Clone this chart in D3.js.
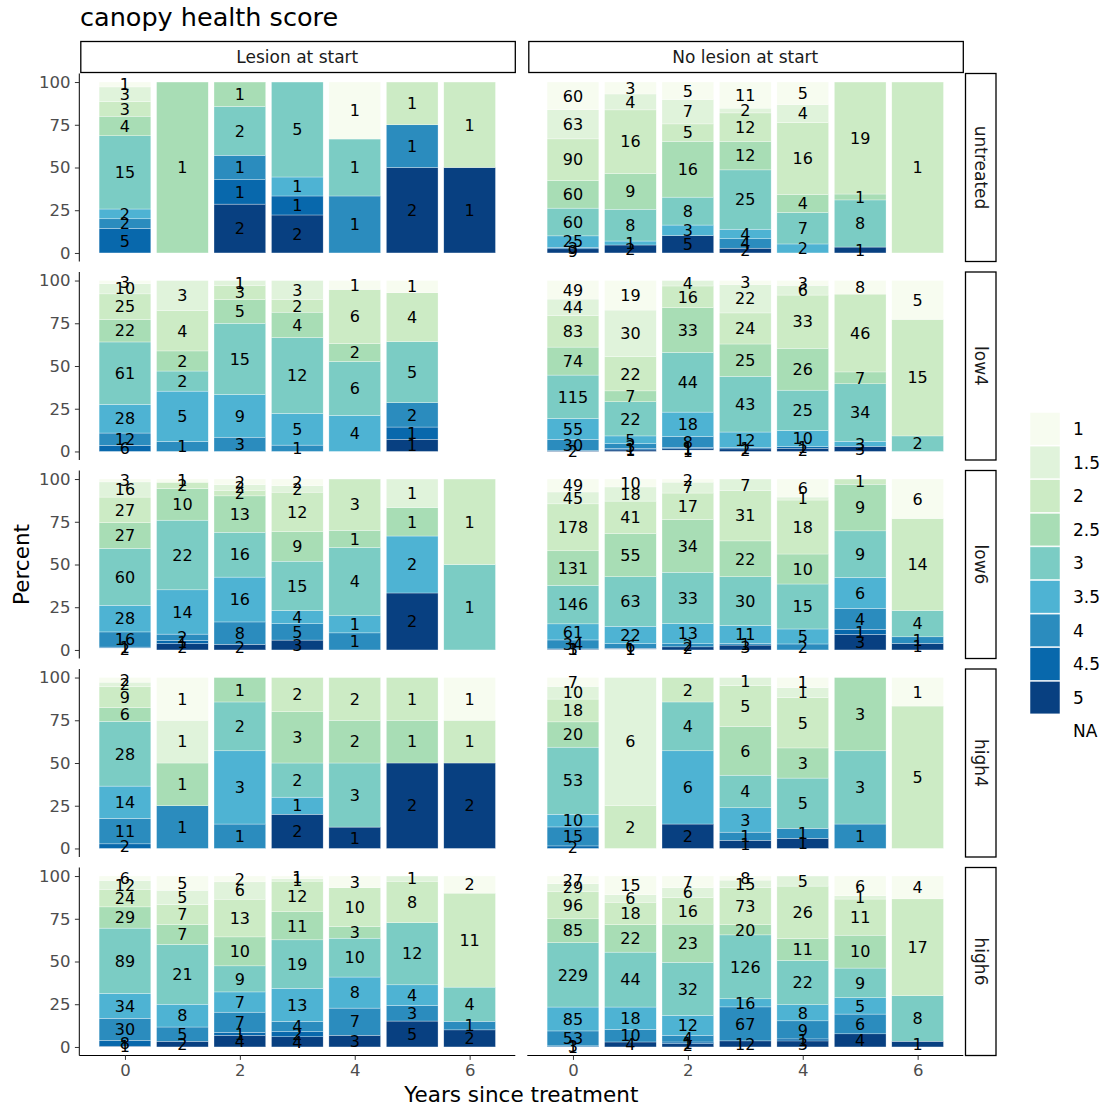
<!DOCTYPE html>
<html><head><meta charset="utf-8">
<script src="https://cdn.jsdelivr.net/npm/d3@7"></script>
<style>body{margin:0;background:#fff}svg{font-family:"DejaVu Sans",sans-serif}</style>
</head><body><svg id="c" width="1105" height="1107"></svg>
<script>
// ---- data ----
const scores = ["1","1.5","2","2.5","3","3.5","4","4.5","5","NA"];
const palette = ["#f7fcf0","#e0f3db","#ccebc5","#a8ddb5","#7bccc4","#4eb3d3","#2b8cbe","#0868ac","#084081","none"];
const years = [0,1,2,3,4,5,6];
const treatments = ["untreated","low4","low6","high4","high6"];
const lesions = ["Lesion at start","No lesion at start"];
const yTicks = [0,25,50,75,100];
const xTicks = [0,2,4,6];

// counts per year (rows: years 0..6; columns: scores 1..5, NA)
const untreatedLesion = [
 [1,3,3,4,15,2,2,5,0,0],[0,0,0,1,0,0,0,0,0,0],[0,0,0,1,2,0,1,1,2,0],[0,0,0,0,5,1,0,1,2,0],
 [1,0,0,0,1,0,1,0,0,0],[0,0,1,0,0,0,1,0,2,0],[0,0,1,0,0,0,0,0,1,0]];
const untreatedNoLesion = [
 [60,63,90,60,60,25,0,3,9,0],[3,4,16,9,8,1,0,0,2,0],[5,7,5,16,8,3,0,0,5,0],[11,2,12,12,25,4,4,0,2,0],
 [5,4,16,4,7,2,0,0,0,0],[0,0,19,1,8,0,0,0,1,0],[0,0,1,0,0,0,0,0,0,0]];
const low4Lesion = [
 [3,10,25,22,61,28,12,6,0,0],[0,3,4,2,2,5,1,0,0,0],[0,1,3,5,15,9,3,0,0,0],[0,3,2,4,12,5,1,0,0,0],
 [1,0,6,2,6,4,0,0,0,0],[1,0,4,0,5,0,2,1,1,0],[0,0,0,0,0,0,0,0,0,0]];
const low4NoLesion = [
 [49,44,83,74,115,55,30,0,2,0],[19,30,22,7,22,5,3,1,1,0],[0,4,16,33,44,18,8,1,1,1],[3,22,24,25,43,12,0,1,2,0],
 [3,6,33,26,25,10,0,1,2,0],[8,0,46,7,34,3,0,0,3,0],[5,0,15,0,2,0,0,0,0,0]];
const low6Lesion = [
 [3,16,27,27,60,28,16,1,0,2],[1,0,2,10,22,14,2,1,2,0],[2,2,2,13,16,16,8,0,2,0],[2,2,12,9,15,4,5,0,3,0],
 [0,0,3,1,4,1,1,0,0,0],[0,1,0,1,0,2,0,0,2,0],[0,0,1,0,1,0,0,0,0,0]];
const low6NoLesion = [
 [49,45,178,131,146,61,34,1,3,0],[10,18,41,55,63,22,6,0,1,1],[2,7,17,34,33,13,2,0,2,0],[0,7,31,22,30,11,1,0,3,0],
 [6,1,18,10,15,5,2,0,0,0],[0,0,1,9,9,6,4,1,3,0],[6,0,14,0,4,0,1,0,1,0]];
const high4Lesion = [
 [2,2,9,6,28,14,11,2,0,0],[1,1,0,1,0,0,1,0,0,0],[0,0,0,1,2,3,1,0,0,0],[0,0,2,3,2,1,0,0,2,0],
 [0,0,2,2,3,0,0,0,1,0],[0,0,1,1,0,0,0,0,2,0],[1,0,1,0,0,0,0,0,2,0]];
const high4NoLesion = [
 [7,10,18,20,53,10,15,2,0,0],[0,6,2,0,0,0,0,0,0,0],[0,0,2,0,4,6,0,0,2,0],[0,1,5,6,4,3,1,0,1,0],
 [1,1,5,3,5,0,1,0,1,0],[0,0,0,3,3,0,1,0,0,0],[1,0,5,0,0,0,0,0,0,0]];
const high6Lesion = [
 [6,12,24,29,89,34,30,8,1,0],[5,5,7,7,21,8,5,0,2,0],[2,6,13,10,9,7,7,1,4,0],[1,1,12,11,19,13,4,2,4,0],
 [3,0,10,3,10,8,7,0,3,0],[0,1,8,0,12,4,3,0,5,0],[2,0,11,0,4,0,1,0,2,0]];
const high6NoLesion = [
 [27,29,96,85,229,85,53,3,1,0],[15,6,18,22,44,18,10,0,4,0],[7,6,16,23,32,12,4,1,2,0],[8,15,73,20,126,16,67,0,12,0],
 [0,5,26,11,22,8,9,1,3,0],[6,1,11,10,9,5,6,0,4,0],[4,0,17,0,8,0,0,0,1,0]];

const panels = [
 [untreatedLesion, untreatedNoLesion],
 [low4Lesion, low4NoLesion],
 [low6Lesion, low6NoLesion],
 [high4Lesion, high4NoLesion],
 [high6Lesion, high6NoLesion]];

// ---- layout ----
const svg = d3.select("#c");
const panelW = 436, panelH = 188;
const colX = [79.3, 527.3];
const rowY = [73.5, 272, 470.5, 669, 867.5];
const color = d3.scaleOrdinal().domain(scores).range(palette);
const barW = 0.9;

svg.append("text").attr("x",80).attr("y",26).attr("font-size",25.5).attr("fill","#000").text("canopy health score");

panels.forEach((row, r) => {
  row.forEach((counts, c) => {
    const x = d3.scaleLinear().domain([-0.795, 6.795]).range([colX[c], colX[c]+panelW]);
    const y = d3.scaleLinear().domain([-5, 105]).range([rowY[r]+panelH, rowY[r]]);
    const g = svg.append("g");
    // build stacked segments: score 1 on top, NA at bottom
    const segs = [];
    counts.forEach((vals, yi) => {
      const total = d3.sum(vals);
      if (!total) return;
      let cum = 0;
      for (let k = scores.length-1; k >= 0; k--) {
        const v = vals[k];
        if (!v) continue;
        const p0 = cum/total*100, p1 = (cum+v)/total*100;
        segs.push({year: years[yi], score: scores[k], n: v, p0, p1});
        cum += v;
      }
    });
    g.selectAll("rect.seg").data(segs).join("rect")
      .attr("x", d => x(d.year - barW/2))
      .attr("width", d => x(d.year + barW/2) - x(d.year - barW/2))
      .attr("y", d => y(d.p1))
      .attr("height", d => y(d.p0) - y(d.p1))
      .attr("fill", d => color(d.score))
      .attr("stroke", d => d.score === "NA" ? "none" : "#ffffff")
      .attr("stroke-opacity", 0.6)
      .attr("stroke-width", 0.5);
    g.selectAll("text.lab").data(segs).join("text")
      .attr("x", d => x(d.year))
      .attr("y", d => y((d.p0+d.p1)/2))
      .attr("dy", "0.36em")
      .attr("text-anchor","middle")
      .attr("font-size", 16)
      .attr("fill","#000")
      .text(d => d.n);

    if (c === 0) {
      const ax = d3.axisLeft(y).tickValues(yTicks).tickSize(4.4).tickPadding(4.5);
      const ag = svg.append("g").attr("transform", `translate(${colX[0]},0)`).call(ax);
      ag.select(".domain").attr("d", `M0,${rowY[r]}V${rowY[r]+panelH}`).attr("stroke","#000").attr("stroke-width",1);
      ag.selectAll(".tick line").attr("stroke","#333");
      ag.selectAll(".tick text").attr("font-size",16.5).attr("fill","#4d4d4d").attr("font-family","DejaVu Sans");
    }
    if (r === panels.length-1) {
      const ax = d3.axisBottom(x).tickValues(xTicks).tickSize(4.4).tickPadding(4.5);
      const ag = svg.append("g").attr("transform", `translate(0,${rowY[r]+panelH})`).call(ax);
      ag.select(".domain").attr("d", `M${colX[c]},0H${colX[c]+panelW}`).attr("stroke","#000").attr("stroke-width",1);
      ag.selectAll(".tick line").attr("stroke","#333");
      ag.selectAll(".tick text").attr("font-size",16.5).attr("fill","#4d4d4d").attr("font-family","DejaVu Sans");
    }
  });
  // right strip
  const sx = 965.5, sw = 30.5;
  svg.append("rect").attr("x", sx).attr("y", rowY[r]).attr("width", sw).attr("height", panelH)
    .attr("fill","#fff").attr("stroke","#000").attr("stroke-width",1.3);
  svg.append("text").attr("transform", `translate(${sx+sw/2},${rowY[r]+panelH/2}) rotate(90)`)
    .attr("text-anchor","middle").attr("dy","0.36em").attr("font-size",17).attr("fill","#1a1a1a").text(treatments[r]);
});

// top strips
lesions.forEach((l, c) => {
  svg.append("rect").attr("x", colX[c]+1.5).attr("y", 41.5).attr("width", panelW-1.5).attr("height", 31)
    .attr("fill","#fff").attr("stroke","#000").attr("stroke-width",1.3);
  svg.append("text").attr("x", colX[c]+panelW/2).attr("y", 57).attr("dy","0.36em")
    .attr("text-anchor","middle").attr("font-size",17).attr("fill","#1a1a1a").text(l);
});

// axis titles
svg.append("text").attr("x", (colX[0]+colX[1]+panelW)/2).attr("y", 1094).attr("dy","0.36em")
  .attr("text-anchor","middle").attr("font-size",21.5).attr("fill","#000").text("Years since treatment");
svg.append("text").attr("transform", `translate(21,${(rowY[0]+rowY[4]+panelH)/2}) rotate(-90)`)
  .attr("text-anchor","middle").attr("dy","0.36em").attr("font-size",21.5).attr("fill","#000").text("Percent");

// legend
const lg = svg.append("g");
scores.forEach((s, i) => {
  const ky = 412 + i*33.6;
  if (s !== "NA") {
    lg.append("rect").attr("x",1030).attr("y",ky+0.5).attr("width",30).attr("height",32.6)
      .attr("fill", color(s)).attr("stroke","#fff").attr("stroke-width",0.5);
  }
  lg.append("text").attr("x",1073).attr("y",ky+16.8).attr("dy","0.36em").attr("font-size",17)
    .attr("fill","#000").text(s);
});
</script></body></html>
